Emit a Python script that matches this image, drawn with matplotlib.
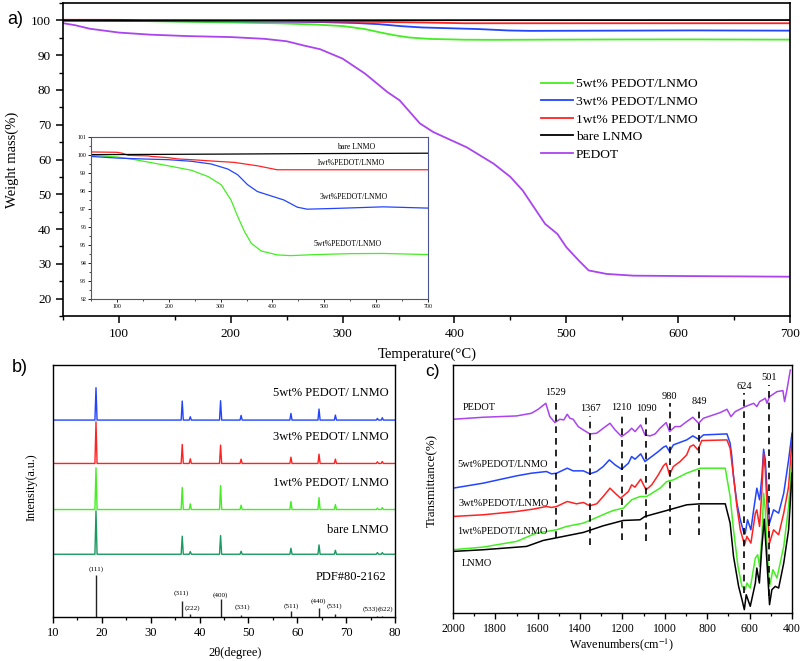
import matplotlib
matplotlib.use('Agg')
import matplotlib.pyplot as plt
from matplotlib.ticker import MultipleLocator

plt.rcParams['font.family'] = ['Liberation Serif', 'DejaVu Serif']
plt.rcParams['mathtext.fontset'] = 'stix'

# ---------------- Panel a: TGA data ----------------
T_pedot = [50, 61, 74, 100, 128, 160, 200, 230, 250, 265, 280, 300, 320, 340, 351, 369, 381, 411, 435,
           450, 461, 471, 481, 492, 500, 511, 520, 536, 560, 600, 650, 700]
W_pedot = [99.2, 98.6, 97.6, 96.5, 95.9, 95.5, 95.2, 94.7, 94.0, 92.8, 91.7, 89.0, 84.7, 79.4, 77.0, 70.4,
           67.9, 63.5, 58.8, 55.0, 51.1, 46.3, 41.5, 38.6, 34.8, 31.0, 28.1, 27.1, 26.6, 26.5, 26.4, 26.3]

T_bare = [50, 300, 500, 700]
W_bare = [100.02, 100.05, 100.08, 100.1]

T_1wt = [50, 100, 110, 122, 160, 167, 200, 218, 250, 275, 326, 371, 409, 700]
W_1wt = [100.17, 100.15, 100.1, 99.98, 99.95, 99.92, 99.85, 99.78, 99.73, 99.68, 99.59, 99.4, 99.18, 99.18]

T_3wt = [50, 100, 150, 199, 244, 282, 314, 333, 352, 371, 397, 422, 448, 467, 518, 614, 700]
W_3wt = [99.92, 99.83, 99.78, 99.74, 99.65, 99.5, 99.22, 98.9, 98.35, 97.97, 97.73, 97.5, 97.1, 96.99,
         97.03, 97.12, 97.05]

T_5wt = [50, 100, 135, 199, 244, 276, 301, 320, 333, 346, 359, 378, 409, 435, 486, 550, 614, 700]
W_5wt = [99.98, 99.89, 99.74, 99.4, 99.15, 98.8, 98.35, 97.5, 96.58, 95.75, 95.1, 94.67, 94.45, 94.41,
         94.47, 94.52, 94.53, 94.47]

tga_names = ['5wt% PEDOT/LNMO', '3wt% PEDOT/LNMO', '1wt% PEDOT/LNMO', 'bare LNMO', 'PEDOT']
inset_names = ['5wt%PEDOT/LNMO', '3wt%PEDOT/LNMO', '1wt%PEDOT/LNMO', 'bare LNMO']

# ---------------- Panel b: XRD data ----------------
hkl = ['(111)', '(311)', '(222)', '(400)', '(331)', '(511)', '(440)', '(531)', '(533)', '(622)']
peak_pos = [18.8, 36.45, 38.1, 44.3, 48.5, 58.7, 64.45, 67.8, 76.4, 77.4]
h_5wt = [97, 57, 10, 58, 14, 20, 33, 15, 5, 7]
h_3wt = [125, 57, 14, 55, 13, 19, 28, 13, 5, 6]
h_1wt = [125, 66, 17, 72, 13, 24, 36, 15, 4, 6]
h_bare = [130, 54, 8, 56, 9, 18, 28, 12, 5, 5]
h_pdf = [125, 47, 10, 54, 7, 17, 27, 10, 3, 4]
xrd_names = ['5wt% PEDOT/ LNMO', '3wt% PEDOT/ LNMO', '1wt% PEDOT/ LNMO', 'bare LNMO']
xrd_offsets = [590, 460, 322, 188]
pdf_name = 'PDF#80-2162'

# ---------------- Panel c: FTIR data ----------------
wn_pedot = [2000, 1858, 1700, 1630, 1598, 1562, 1543, 1519, 1496, 1477, 1461, 1448, 1433, 1409, 1385, 1354,
            1322, 1291, 1259, 1235, 1204, 1172, 1157, 1141, 1114, 1094, 1070, 1046, 1023, 994, 978, 952,
            928, 897, 868, 841, 818, 739, 707, 688, 668, 621, 581, 566, 553, 526, 518, 506, 471, 443, 435,
            424, 408]
tr_pedot = [582, 588, 592, 600, 612, 630, 590, 572, 582, 580, 597, 585, 582, 560, 550, 538,
            540, 555, 570, 550, 530, 545, 555, 545, 565, 535, 532, 538, 555, 572, 545, 560,
            560, 575, 588, 570, 585, 602, 612, 590, 605, 620, 630, 620, 635, 645, 630, 650, 665, 668, 635,
            670, 730]

wn_5wt = [2000, 1858, 1700, 1630, 1559, 1535, 1511, 1461, 1433, 1385, 1354, 1322, 1291, 1262, 1235, 1204,
          1172, 1157, 1141, 1114, 1094, 1062, 1031, 1007, 994, 978, 960, 897, 868, 841, 818, 707, 692,
          684, 676, 660, 644, 629, 621, 610, 594, 581, 566, 553, 542, 534, 526, 518, 506, 487, 463, 439,
          416, 400]
tr_5wt = [375, 390, 412, 420, 425, 418, 420, 435, 427, 427, 418, 425, 440, 460, 445, 432,
          450, 470, 462, 478, 455, 470, 485, 498, 502, 485, 505, 520, 532, 522, 535, 538, 510,
          470, 410, 330, 280, 245, 238, 280, 250, 310, 375, 340, 410, 492, 460, 370, 270, 310, 300, 360,
          460, 540]

wn_3wt = [2000, 1858, 1700, 1622, 1559, 1535, 1511, 1461, 1417, 1385, 1354, 1322, 1291, 1259, 1235, 1209,
          1172, 1157, 1141, 1114, 1089, 1062, 1031, 1007, 994, 978, 960, 928, 897, 881, 865, 844, 826,
          707, 692, 676, 660, 644, 624, 613, 594, 573, 566, 553, 542, 534, 526, 518, 506, 487, 463, 439,
          416, 400]
tr_3wt = [290, 295, 305, 312, 320, 317, 320, 335, 328, 332, 322, 328, 350, 375, 360, 345,
          365, 385, 378, 402, 370, 385, 415, 442, 450, 415, 440, 455, 475, 500, 505, 490, 518,
          520, 495, 410, 320, 250, 205, 230, 210, 300, 310, 260, 370, 480, 430, 320, 210, 250, 235, 300,
          380, 520]

wn_1wt = [2000, 1858, 1700, 1606, 1511, 1464, 1385, 1354, 1275, 1243, 1196, 1157, 1117, 1086, 1023, 991,
          960, 897, 833, 715, 692, 676, 655, 636, 621, 613, 597, 573, 562, 553, 542, 534, 526, 518, 506,
          490, 471, 439, 416, 400]
tr_1wt = [190, 198, 215, 240, 250, 260, 270, 278, 300, 308, 315, 340, 350, 350, 375, 395,
          400, 420, 435, 435, 350, 250, 140, 80, 70, 90, 75, 165, 175, 140, 230, 360, 310, 200, 80,
          130, 105, 200, 320, 460]

wn_lnmo = [2000, 1858, 1653, 1574, 1385, 1291, 1196, 1117, 1094, 991, 897, 833, 715, 692, 676, 652, 636,
           625, 616, 597, 573, 566, 554, 542, 531, 518, 506, 495, 479, 463, 439, 416, 400]
tr_lnmo = [185, 190, 200, 218, 242, 262, 278, 280, 290, 308, 325, 328, 328, 270, 170, 80, 40,
           10, 55, 20, 90, 135, 90, 200, 282, 150, 25, 70, 80, 75, 150, 250, 420]

ftir_names = ['PEDOT', '5wt%PEDOT/LNMO', '3wt%PEDOT/LNMO', '1wt%PEDOT/LNMO', 'LNMO']
band_labels = ['1529', '1367', '1210', '1090', '980', '849', '624', '501']
band_pos = [1514, 1353, 1203, 1088, 978, 838, 625, 510]
band_low = [225, 205, 220, 215, 235, 235, 60, 50]
band_high = [640, 592, 595, 592, 630, 615, 660, 685]

# ---------------- colours ----------------
c_green = '#44ee22'
c_blue = '#2244ff'
c_red = '#ff2222'
c_black = '#000000'
c_purple = '#aa44ee'
c_dkgreen = '#1a9a60'

W, H = 803, 661
fig = plt.figure(figsize=(W / 100, H / 100), dpi=100)


def box(l, t, r, b):
    return [l / W, 1 - b / H, (r - l) / W, (b - t) / H]


# ================= Panel a =================
axA = fig.add_axes(box(63, 3, 790, 316))
tga = [(T_5wt, W_5wt, c_green), (T_3wt, W_3wt, c_blue), (T_1wt, W_1wt, c_red),
       (T_bare, W_bare, c_black), (T_pedot, W_pedot, c_purple)]
for (t, w, c), name in zip(tga, tga_names):
    axA.plot(t, w, color=c, lw=1.3, label=name)
axA.set_xlim(50, 700)
axA.set_ylim(15, 105)
axA.xaxis.set_major_locator(MultipleLocator(100))
axA.xaxis.set_minor_locator(MultipleLocator(50))
axA.yaxis.set_minor_locator(MultipleLocator(5))
axA.tick_params(which='major', direction='out', length=5, width=1.1, labelsize=9.5)
axA.tick_params(which='minor', direction='out', length=3, width=1.0)
axA.set_yticks([20, 30, 40, 50, 60, 70, 80, 90, 100])
for s in axA.spines.values():
    s.set_linewidth(1.2)
axA.legend(loc='upper left', bbox_to_anchor=((541 - 63) / 727, 1 - (78 - 3) / 313), frameon=False,
           fontsize=9.7, handlelength=2.4, handletextpad=0.2, labelspacing=0.38,
           borderaxespad=0, borderpad=0)
fig.text(12 / W, 1 - 160 / H, 'Weight mass(%)', rotation=90, ha='center', va='center', fontsize=10.5)
fig.text(427 / W, 1 - 354 / H, 'Temperature(°C)', ha='center', va='center', fontsize=10.5)
fig.text(15 / W, 1 - 20 / H, 'a)', ha='center', va='center', fontsize=13, family='Liberation Sans')

# inset
axI = fig.add_axes(box(91, 137, 428, 299))
for (t, w, c), name in zip(tga[:4], inset_names):
    axI.plot(t, w, color=c, lw=0.9)
axI.set_xlim(50, 700)
axI.set_ylim(92, 101)
axI.xaxis.set_major_locator(MultipleLocator(100))
axI.xaxis.set_minor_locator(MultipleLocator(50))
axI.yaxis.set_major_locator(MultipleLocator(1))
axI.yaxis.set_minor_locator(MultipleLocator(0.5))
axI.tick_params(which='major', direction='out', length=2, width=0.6, labelsize=4.2, pad=1.5)
axI.tick_params(which='minor', direction='out', length=1.2, width=0.5)
for s in axI.spines.values():
    s.set_linewidth(0.8)
    s.set_color('#4a5590')
axI.text(561, 100.44, inset_names[3], ha='center', va='center', fontsize=5.6)
axI.text(550, 99.56, inset_names[2], ha='center', va='center', fontsize=5.6)
axI.text(556, 97.67, inset_names[1], ha='center', va='center', fontsize=5.6)
axI.text(546, 95.06, inset_names[0], ha='center', va='center', fontsize=5.6)

# ================= Panel b =================
axB = fig.add_axes(box(53, 365, 395, 617))


def xrd_line(base, heights, hw=0.22):
    xs, ys = [10], [base]
    for p, h in zip(peak_pos, heights):
        xs += [p - hw, p, p + hw]
        ys += [base, base + h, base]
    xs.append(80)
    ys.append(base)
    return xs, ys


xrd_sets = [(h_5wt, c_blue), (h_3wt, c_red), (h_1wt, c_green), (h_bare, c_dkgreen)]
label_y = [672, 540, 402, 262]
for (hs, c), off, name, ly in zip(xrd_sets, xrd_offsets, xrd_names, label_y):
    xs, ys = xrd_line(off, hs)
    axB.plot(xs, ys, color=c, lw=1.0)
    axB.text(78.6, ly, name, ha='right', va='center', fontsize=9)
axB.vlines(peak_pos, 0, h_pdf, color='#222222', lw=1.0)
hkl_label_x = [18.9, 36.3, 38.6, 44.3, 48.7, 58.8, 64.3, 67.6, 74.9, 78.0]
hkl_label_y = [143, 73, 28, 67, 30, 34, 48, 32, 25, 25]
for x, y, lab in zip(hkl_label_x, hkl_label_y, hkl):
    axB.text(x, y, lab, ha='center', va='center', fontsize=5.2)
axB.text(78.3, 120, pdf_name, ha='right', va='center', fontsize=9)
axB.set_xlim(10, 80)
axB.set_ylim(0, 755)
axB.set_yticks([])
axB.xaxis.set_major_locator(MultipleLocator(10))
axB.xaxis.set_minor_locator(MultipleLocator(5))
axB.tick_params(which='major', direction='out', length=4, width=1.0, labelsize=9)
axB.tick_params(which='minor', direction='out', length=2.5, width=0.9)
for s in axB.spines.values():
    s.set_linewidth(1.0)
fig.text(32 / W, 1 - 487 / H, 'Intensity(a.u.)', rotation=90, ha='center', va='center', fontsize=8.7)
fig.text(235 / W, 1 - 653 / H, '2θ(degree)', ha='center', va='center', fontsize=9)
fig.text(20 / W, 1 - 368 / H, 'b)', ha='center', va='center', fontsize=13, family='Liberation Sans')

# ================= Panel c =================
axC = fig.add_axes(box(453, 365, 792, 613))
ftir = [(wn_pedot, tr_pedot, c_purple), (wn_5wt, tr_5wt, c_blue), (wn_3wt, tr_3wt, c_red),
        (wn_1wt, tr_1wt, c_green), (wn_lnmo, tr_lnmo, c_black)]
for wn, tr, c in ftir:
    axC.plot(wn, tr, color=c, lw=1.1)
axC.vlines(band_pos, band_low, band_high, colors='black', linestyles=(0, (4, 3)), lw=1.2)
for p, hi, lab in zip(band_pos, band_high, band_labels):
    axC.text(p, hi + 8, lab, ha='center', va='bottom', fontsize=7.5)
label_pos_c = [(1953, 618), (1981, 445), (1976, 330), (1981, 245), (1961, 148)]
for (x, y), name in zip(label_pos_c, ftir_names):
    axC.text(x, y, name, ha='left', va='center', fontsize=7.5)
axC.set_xlim(2000, 400)
axC.set_ylim(0, 745)
axC.set_yticks([])
axC.xaxis.set_major_locator(MultipleLocator(200))
axC.xaxis.set_minor_locator(MultipleLocator(100))
axC.tick_params(which='major', direction='out', length=4, width=1.0, labelsize=8.5)
axC.tick_params(which='minor', direction='out', length=2.5, width=0.9)
for s in axC.spines.values():
    s.set_linewidth(1.0)
fig.text(432 / W, 1 - 480 / H, 'Transmittance(%)', rotation=90, ha='center', va='center', fontsize=9.4)
fig.text(622 / W, 1 - 645 / H, 'Wavenumbers(cm$^{-1}$)', ha='center', va='center', fontsize=8.7)
fig.text(432 / W, 1 - 372 / H, 'c)', ha='center', va='center', fontsize=12.5, family='Liberation Sans')

fig.savefig('out.png', dpi=100)
